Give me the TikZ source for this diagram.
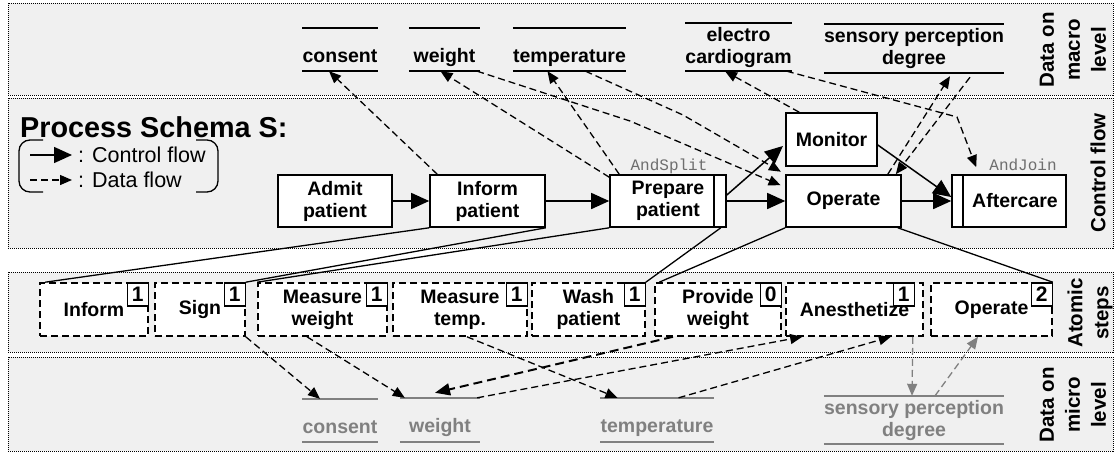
\documentclass[tikz,border=0pt]{standalone}
\usepackage{fontspec}
\setmainfont{Liberation Sans}
\newfontfamily\monofont{Liberation Mono}
\usetikzlibrary{arrows.meta,calc}
\definecolor{bandgray}{HTML}{F0F0F0}
\definecolor{datagray}{HTML}{808080}
\definecolor{labgray}{HTML}{6E6E6E}
\begin{document}
\begin{tikzpicture}[x=1pt,y=-1pt,
 band/.style={draw=black,fill=bandgray,line width=0.9pt,dash pattern=on 1pt off 1pt},
 act/.style={draw=black,fill=white,line width=1.6pt,inner sep=0pt,align=center,font=\bfseries\fontsize{19.5}{22}\selectfont,minimum height=52pt},
 atom/.style={draw=black,fill=white,line width=1.6pt,dash pattern=on 7pt off 4pt,inner sep=0pt,align=center,font=\bfseries\fontsize{19.5}{22}\selectfont,minimum height=53pt},
 num/.style={draw=black,fill=white,line width=1.3pt,inner sep=0pt,minimum width=21pt,minimum height=23pt,font=\bfseries\fontsize{21}{21}\selectfont,anchor=north east},
 dat/.style={inner sep=0pt,align=center,font=\bfseries\fontsize{19.5}{22}\selectfont},
 onel/.style={text height=25pt,text depth=0pt},
 mdat/.style={dat,text=datagray},
 dline/.style={line width=1.5pt},
 mline/.style={line width=1.5pt,draw=datagray},
 cf/.style={line width=1.5pt,-{Triangle[length=18pt,width=16pt]}},
 df/.style={line width=1.3pt,dash pattern=on 7pt off 4pt,-{Triangle[length=12pt,width=10pt]}},
 gdf/.style={df,color=datagray},
 thdf/.style={line width=2pt,dash pattern=on 9pt off 5pt,-{Triangle[length=15pt,width=12pt]}},
 refl/.style={line width=1.3pt},
 side/.style={rotate=90,align=center,inner sep=0pt,font=\bfseries\fontsize{20.5}{26}\selectfont},
 gate/.style={text=labgray,inner sep=0pt,font=\monofont\fontsize{16}{16}\selectfont},
 bar/.style={line width=1.6pt},
]
\useasboundingbox (0,0) rectangle (1116,453);
% bands
\path[band] (8,3) rectangle (1113,95);
\path[band] (8,98) rectangle (1113,248);
\path[band] (8,272) rectangle (1113,352);
\path[band] (8,357) rectangle (1113,451);

% side labels
\node[side] (sl1) at (1073,50) {Data on\\macro\\level};
\node[side] (sl2) at (1098,173) {Control flow};
\node[side] (sl3) at (1090,313) {Atomic\\steps};
\node[side] (sl4) at (1073,405) {Data on\\micro\\level};

% legend
\node[font=\bfseries\fontsize{28.8}{30}\selectfont,anchor=west,inner sep=0pt] (title) at (20,127) {Process Schema S:};
\draw[line width=1.3pt,rounded corners=11pt] (43,140) -- (19,140) -- (19,192) -- (43,192);
\draw[line width=1.3pt,rounded corners=11pt] (196,140) -- (218,140) -- (218,192) -- (196,192);
\coordinate (lc1) at (30,155); \coordinate (lc2) at (72,155);
\coordinate (ld1) at (30,180); \coordinate (ld2) at (72,180);
\draw[cf] (lc1) -- (lc2);
\draw[df] (ld1) -- (ld2);
\node[anchor=west,inner sep=0pt,font=\fontsize{21.5}{24}\selectfont] (lct) at (78,155) {: Control flow};
\node[anchor=west,inner sep=0pt,font=\fontsize{21.5}{24}\selectfont] (ldt) at (78,180) {: Data flow};

% macro data
\node[dat,onel,minimum width=72pt,minimum height=43pt] (dcon) at (340,49.5) {consent};
\node[dat,onel,minimum width=71pt,minimum height=43pt] (dwei) at (444.5,49.5) {weight};
\node[dat,onel,minimum width=103pt,minimum height=43pt] (dtem) at (569.5,49.5) {temperature};
\node[dat,minimum width=97pt,minimum height=48pt] (decg) at (738.5,47) {electro\\cardiogram};
\node[dat,minimum width=178pt,minimum height=49pt] (dspd) at (914,48.5) {sensory perception\\degree};
\foreach \n in {dcon,dwei,dtem,decg,dspd}{
  \draw[dline] (\n.north west) -- (\n.north east) (\n.south west) -- (\n.south east);
}

% micro data
\node[mdat,onel,minimum width=70pt,minimum height=43pt] (mcon) at (340,420.5) {consent};
\node[mdat,onel,minimum width=80pt,minimum height=44pt] (mwei) at (440,420) {weight};
\node[mdat,onel,minimum width=102pt,minimum height=44pt] (mtem) at (657,420) {temperature};
\node[mdat,minimum width=178pt,minimum height=48pt] (mspd) at (914,420) {sensory perception\\degree};
\foreach \n in {mcon,mwei,mtem,mspd}{
  \draw[mline] (\n.north west) -- (\n.north east) (\n.south west) -- (\n.south east);
}

% activities
\node[act,minimum width=114pt] (adm) at (335,201) {Admit\\patient};
\node[act,minimum width=115pt] (inf) at (487.5,201) {Inform\\patient};
\node[act,minimum width=116pt] (prep) at (668,201) {Prepare\\patient};
\node[act,minimum width=91pt,minimum height=53pt] (mon) at (831.5,139.5) {Monitor};
\node[act,minimum width=115pt] (op) at (843.5,201) {Operate};
\node[act,minimum width=114pt] (aft) at (1009,201) {\hspace*{12pt}Aftercare};
\draw[bar] ([xshift=-13pt]prep.north east) -- ([xshift=-13pt]prep.south east);
\draw[bar] ([xshift=12pt]aft.north west) -- ([xshift=12pt]aft.south west);
\node[gate] (gs) at (669,166) {AndSplit};
\node[gate] (gj) at (1023,165) {AndJoin};

% atomic steps
\node[atom,minimum width=108pt] (a1) at (94,309.5) {Inform};
\node[atom,minimum width=90pt] (a2) at (200,309.5) {Sign};
\node[atom,minimum width=129pt] (a3) at (322.5,309.5) {Measure\\weight};
\node[atom,minimum width=134pt] (a4) at (460,309.5) {Measure\\temp.};
\node[atom,minimum width=113pt] (a5) at (588.5,309.5) {Wash\\patient};
\node[atom,minimum width=126pt] (a6) at (718,309.5) {Provide\\weight};
\node[atom,minimum width=137pt] (a7) at (854.5,309.5) {Anesthetize};
\node[atom,minimum width=121pt] (a8) at (991.5,309.5) {Operate};
\node[num] (n1) at (a1.north east) {1};
\node[num] (n2) at (a2.north east) {1};
\node[num] (n3) at (a3.north east) {1};
\node[num] (n4) at (a4.north east) {1};
\node[num] (n5) at (a5.north east) {1};
\node[num] (n6) at (a6.north east) {0};
\node[num] (n7) at ([xshift=-9pt]a7.north east) {1};
\node[num] (n8) at (a8.north east) {2};

% control flow
\draw[cf] (adm) -- (inf);
\draw[cf] (inf) -- (prep);
\draw[cf] (prep) -- (op);
\draw[cf,shorten >=3pt] ([yshift=6pt]prep.east) -- ([yshift=-4.5pt]mon.west);
\draw[cf] (op) -- (aft);
\draw[cf] ([yshift=-5.5pt]mon.east) -- ([yshift=4pt]aft.west);

% refinement
\draw[refl] (inf.south west) -- ([xshift=6pt]a1.north west);
\draw[refl] (inf.south east) -- (a2.north east);
\draw[refl] (prep.south west) -- (a3.north west);
\draw[refl] ([xshift=-6pt]prep.south east) -- (a5.north east);
\draw[refl] (op.south west) -- ([xshift=5pt]a6.north west);
\draw[refl] ([xshift=-4pt]op.south east) -- (a8.north east);

% macro data flow
\coordinate (bw) at (630,121);
\coordinate (bt) at (683,115);
\coordinate (be) at (957,117);
\draw[df] ([xshift=8pt]inf.north west) -- ([xshift=-11pt]dcon.south);
\draw[df] ([yshift=-3pt]prep.north west) -- ([xshift=-4pt]dwei.south);
\draw[df] ([xshift=10pt]prep.north west) -- ([xshift=-22pt]dtem.south);
\draw[df,shorten >=5pt] ([xshift=-3pt]dwei.south east) -- (bw) -- ([yshift=-13pt]op.north west);
\draw[df,shorten >=5pt] ([xshift=16pt]dtem.south) -- (bt) -- (op.north west);
\draw[df] ([xshift=14pt]mon.north west) -- ([xshift=-13.5pt]decg.south);
\draw[df] ([xshift=-5pt]decg.south east) -- (be) -- ([xshift=25pt,yshift=7pt]aft.north west);
\draw[df] ([xshift=-14pt]op.north east) -- ([xshift=36pt,yshift=-3pt]dspd.south);
\draw[df] ([xshift=56pt,yshift=-4pt]dspd.south) -- ([xshift=-6pt]op.north east);

% micro data flow
\draw[df] (a2.south east) -- ([xshift=-20pt]mcon.north);
\draw[df] ([xshift=-15.5pt]a3.south) -- ([xshift=5pt]mwei.north west);
\draw[df] ([xshift=7pt]a4.south) -- ([xshift=17pt]mtem.north west);
\draw[thdf] ([xshift=-45pt]a6.south) -- ([xshift=-5pt,yshift=5pt]mwei.north);
\draw[df] ([xshift=-3pt]mwei.north east) -- ([xshift=17pt]a7.south west);
\draw[df] ([xshift=-35pt]mtem.north east) -- ([xshift=-33pt]a7.south east);
\draw[gdf] ([xshift=-11pt]a7.south east) -- ([xshift=-2pt]mspd.north);
\draw[gdf] ([xshift=21pt]mspd.north) -- ([xshift=-13.5pt]a8.south);
\end{tikzpicture}
\end{document}
